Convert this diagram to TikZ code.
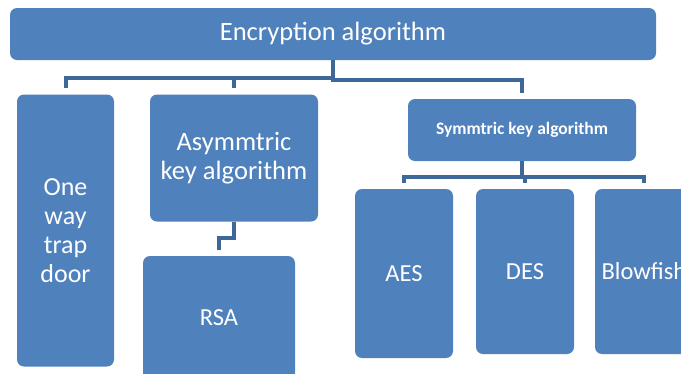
\documentclass[tikz,border=0pt]{standalone}
\usepackage{fontspec}
\setmainfont{Carlito}
\definecolor{boxblue}{HTML}{4F81BD}
\definecolor{lineblue}{HTML}{3E6899}

\begin{document}
\begin{tikzpicture}[x=1pt,y=-1pt,
        block/.style={rectangle,rounded corners=7pt,fill=boxblue,text=white,align=center,inner sep=0pt},
        conn/.style={draw=lineblue,line width=4pt,shorten >=6pt}]
    \useasboundingbox (0,0) rectangle (681,373);
    \clip (0,0) rectangle (681,373);

    % Root
    \node[block,minimum width=646pt,minimum height=52pt,font=\fontsize{26.5}{30}\selectfont] (enc) at (333,34) {Encryption algorithm};

    % Level 1
    \node[block,minimum width=97pt,minimum height=272pt,font=\fontsize{26}{29}\selectfont] (oneway) at (65.5,230.5) {One\\way\\trap\\door};
    \node[block,minimum width=168pt,minimum height=127pt,font=\fontsize{26.5}{29}\selectfont] (asym) at (234,158) {Asymmtric\\key algorithm};
    \node[block,minimum width=228pt,minimum height=62pt,font=\fontsize{17.5}{21}\selectfont\bfseries] (sym) at (522,130) {Symmtric key algorithm};

    % Level 2
    \node[block,minimum width=152pt,minimum height=124pt,font=\fontsize{24.5}{28}\selectfont] (rsa) at (219,318) {RSA};
    \node[block,minimum width=98pt,minimum height=169pt,font=\fontsize{24.5}{28}\selectfont] (aes) at (404,273.5) {AES};
    \node[block,minimum width=98pt,minimum height=165pt,font=\fontsize{24.5}{28}\selectfont] (des) at (525,271.5) {DES};
    \node[block,minimum width=98pt,minimum height=165pt,font=\fontsize{24.5}{28}\selectfont] (blow) at (644,271.5) {Blowfish};

    % Connectors
    \draw[conn] (enc.south) -- ++(0,18) -| (oneway.north);
    \draw[conn] (enc.south) -- ++(0,18) -| (asym.north);
    \draw[conn] (enc.south) -- ++(0,20) -| (sym.north);
    \draw[conn] (asym.south) -- ++(0,16) -| (rsa.north);
    \draw[conn] (sym.south) -- ++(0,16) -| (aes.north);
    \draw[conn] (sym.south) -- ++(0,16) -| (des.north);
    \draw[conn] (sym.south) -- ++(0,16) -| (blow.north);
\end{tikzpicture}
\end{document}
